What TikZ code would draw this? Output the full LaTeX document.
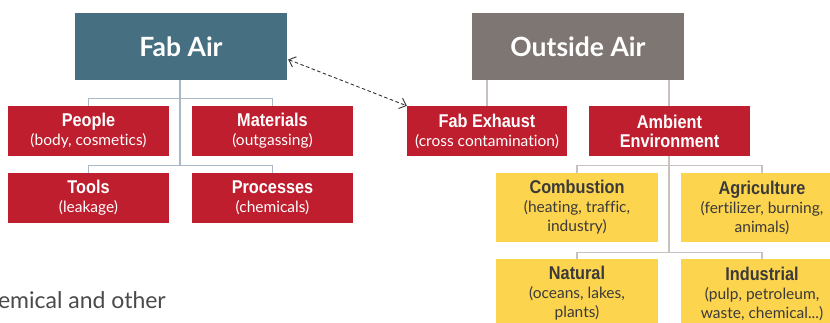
\documentclass[tikz,border=0pt]{standalone}
\usepackage{fontspec}
\setmainfont{Lato}[Ligatures=CommonOff]
\newfontfamily\condb{Liberation Sans Bold}[FakeStretch=0.88]
\usetikzlibrary{arrows.meta,calc}
\definecolor{fabc}{HTML}{476F82}
\definecolor{outc}{HTML}{7E7673}
\definecolor{redc}{HTML}{BE1E2D}
\definecolor{yelc}{HTML}{FDD44E}
\definecolor{darkt}{HTML}{3A3A3A}
\definecolor{lineL}{HTML}{A9B8C4}
\definecolor{lineR}{HTML}{C9C1BD}
\definecolor{bodyt}{HTML}{4A4A4A}
\newcommand{\ttl}[1]{{\condb\fontsize{18.5}{19}\selectfont #1}}
\begin{document}
\begin{tikzpicture}[x=1pt,y=-1pt,
  headbox/.style={minimum width=212, minimum height=67, inner sep=0, text=white,
    font=\bfseries\fontsize{26.5}{30}\selectfont},
  redbox/.style={fill=redc, text=white, minimum width=161, minimum height=50, inner sep=0,
    align=center, font=\fontsize{15.5}{19}\selectfont},
  yelbox/.style={fill=yelc, text=darkt, minimum width=162, minimum height=69, inner sep=0,
    align=center, font=\fontsize{15.5}{19}\selectfont},
  connL/.style={draw=lineL, line width=1.1pt},
  connR/.style={draw=lineR, line width=1.1pt},
  dasharrow/.style={draw=black!80, line width=0.9pt, dash pattern=on 3.5pt off 2.5pt,
    {Straight Barb[length=6pt,width=11pt]}-{Straight Barb[length=6pt,width=11pt]}}
]
\useasboundingbox (0,0) rectangle (830,322);
\fill[white] (0,0) rectangle (830,322);

% left tree
\node[headbox, fill=fabc] (fab) at (181,46.5) {Fab Air};
\node[redbox] (people) at (88.5,131) {\ttl{People}\\(body, cosmetics)};
\node[redbox] (mat) at (272.5,131) {\ttl{Materials}\\(outgassing)};
\node[redbox] (tools) at (88.5,198) {\ttl{Tools}\\(leakage)};
\node[redbox] (proc) at (272.5,198) {\ttl{Processes}\\(chemicals)};

\coordinate (lb) at (180,166);
\draw[connL] (fab.south -| lb) -- (lb);
\draw[connL] (people.north) -- ++(0,-7) -| (mat.north);
\draw[connL] (tools.north) -- ++(0,-7) -| (proc.north);

% right tree
\node[headbox, fill=outc] (out) at (578,46.5) {Outside Air};
\node[redbox, minimum width=160] (fabex) at (487,131) {\ttl{Fab Exhaust}\\(cross contamination)};
\node[redbox] (amb) at (669.5,131) {\ttl{Ambient}\\\ttl{Environment}};
\node[yelbox] (comb) at (577,207.5) {\ttl{Combustion}\\(heating, traffic,\\industry)};
\node[yelbox] (agri) at (762,207.5) {\ttl{Agriculture}\\(fertilizer, burning,\\animals)};
\node[yelbox] (nat) at (577,293.5) {\ttl{Natural}\\(oceans, lakes,\\plants)};
\node[yelbox] (ind) at (762,293.5) {\ttl{Industrial}\\(pulp, petroleum,\\waste, chemical...)};

\draw[connR] (fabex.north) -- (fabex.north |- out.south);
\draw[connR] (amb.north -| 669,0) -- (out.south -| 669,0);
\coordinate (rb) at (669,253);
\draw[connR] (amb.south -| rb) -- (rb);
\draw[connR] (comb.north) -- ++(0,-7) -| (agri.north);
\draw[connR] (nat.north) -- ++(0,-6) -| (ind.north);

% dashed double arrow
\draw[dasharrow] ($(fab.east)+(1,13)$) -- (fabex.north west);

% cut-off body text
\node[anchor=base east, inner sep=0, text=bodyt, font=\fontsize{23}{27}\selectfont] (body) at (166,308) {emical and other};
\end{tikzpicture}
\end{document}
